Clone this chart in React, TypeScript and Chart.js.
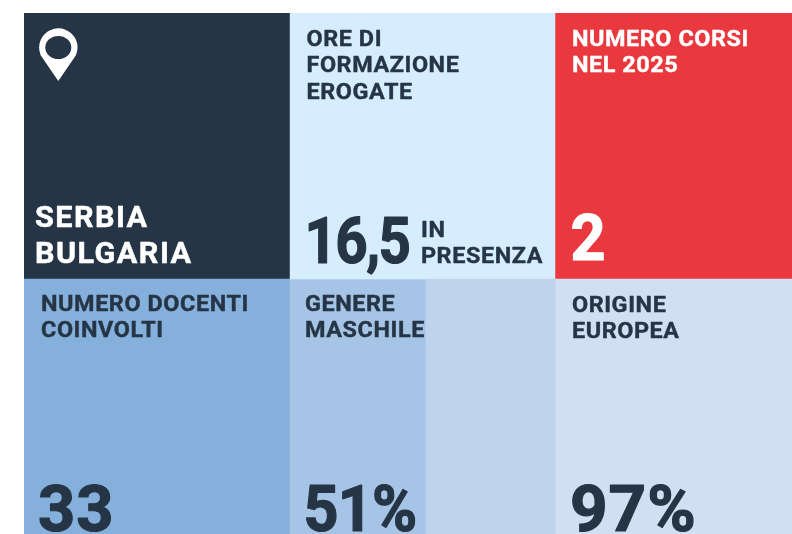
import React, { useEffect, useRef } from "react";
import { Chart, registerables } from "chart.js";

Chart.register(...registerables);

const rows = ["top", "bottom"];
const tileHeadings = [
  ["ORE DI", "FORMAZIONE", "EROGATE"],
  ["NUMERO CORSI", "NEL 2025"],
  ["NUMERO DOCENTI", "COINVOLTI"],
  ["GENERE", "MASCHILE"],
  ["ORIGINE", "EUROPEA"],
];
const tileValues = ["16,5", "2", "33", "51%", "97%"];
const places = ["SERBIA", "BULGARIA"];
const unitLabel = ["IN", "PRESENZA"];
const malePercent = 51.4;

const NAVY = "#263545";
const WHITE = "#ffffff";

// Position of every text block: tile column / row, plus offset in px inside the tile.
const headingSlots = [
  { col: 1, row: 0, dx: 17, dy: 33, color: NAVY },
  { col: 2, row: 0, dx: 17, dy: 33, color: WHITE },
  { col: 0, row: 1, dx: 17, dy: 32, color: NAVY },
  { col: 1, row: 1, dx: 15.5, dy: 32, color: NAVY },
  { col: 2, row: 1, dx: 17, dy: 33, color: NAVY },
];
const valueSlots = [
  { col: 1, row: 0, dx: 15, dy: 250, color: NAVY, spacing: -1.8, stretch: 0.87 },
  { col: 2, row: 0, dx: 15.5, dy: 247, color: WHITE, spacing: 0, stretch: 0.94 },
  { col: 0, row: 1, dx: 14, dy: 252, color: NAVY, spacing: 1, stretch: 1 },
  { col: 1, row: 1, dx: 14, dy: 252, color: NAVY, spacing: -0.8, stretch: 0.94 },
  { col: 2, row: 1, dx: 15, dy: 252, color: NAVY, spacing: 1, stretch: 1.01 },
];

function drawText(ctx: any, t: string, x: number, y: number, stretch: number, stroke: number) {
  ctx.save();
  ctx.translate(x, y);
  ctx.scale(stretch, 1);
  ctx.lineWidth = stroke;
  ctx.lineJoin = "round";
  ctx.strokeStyle = ctx.fillStyle;
  ctx.strokeText(t, 0, 0);
  ctx.fillText(t, 0, 0);
  ctx.restore();
}

const textPlugin = {
  id: "tileText",
  afterDatasetsDraw(chart: any) {
    const { ctx, scales } = chart;
    const x0 = (c: number) => scales.x.getPixelForValue(c);
    const y0 = (r: number) => scales.y.getPixelForValue(r) - scales.y.height / 4;
    ctx.save();
    ctx.textAlign = "left";
    ctx.textBaseline = "alphabetic";

    ctx.font = "700 22.5px Roboto";
    (ctx as any).letterSpacing = "0.55px";
    tileHeadings.forEach((lines, i) => {
      const s = headingSlots[i];
      ctx.fillStyle = s.color;
      lines.forEach((t, k) => drawText(ctx, t, x0(s.col) + s.dx, y0(s.row) + s.dy + k * 26.3, 1.04, 0.4));
    });

    ctx.font = "700 65px Roboto";
    tileValues.forEach((t, i) => {
      const s = valueSlots[i];
      (ctx as any).letterSpacing = s.spacing + "px";
      ctx.fillStyle = s.color;
      drawText(ctx, t, x0(s.col) + s.dx, y0(s.row) + s.dy, s.stretch, 1.2);
    });

    ctx.font = "700 22.5px Roboto";
    (ctx as any).letterSpacing = "0.55px";
    ctx.fillStyle = NAVY;
    unitLabel.forEach((t, k) => drawText(ctx, t, x0(1) + 131.5, y0(0) + 224 + k * 26, 1.04, 0.4));

    ctx.font = "700 30px Roboto";
    (ctx as any).letterSpacing = "1.4px";
    ctx.fillStyle = WHITE;
    places.forEach((t, k) => drawText(ctx, t, x0(0) + 11, y0(0) + 213.5 + k * 36.5, 1.02, 0.5));

    // Location pin
    const px = x0(0) + 34.3;
    const py = y0(0) + 34.5;
    ctx.beginPath();
    ctx.arc(px, py, 19.2, Math.PI * 0.87, Math.PI * 0.13);
    ctx.lineTo(px, py + 33.5);
    ctx.closePath();
    ctx.ellipse(px, py, 13, 11.6, 0, 0, Math.PI * 2, true);
    ctx.fill("evenodd");
    ctx.restore();
  },
};

export default function App() {
  const ref = useRef<HTMLCanvasElement | null>(null);
  useEffect(() => {
    document.body.style.margin = "0";
    const split = 1 + malePercent / 100;
    const chart = new Chart(ref.current!, {
      type: "bar",
      data: {
        labels: rows,
        datasets: [
          { label: "col1", data: [[0, 1], [0, 1]] as any, backgroundColor: [NAVY, "#85B0DC"] },
          { label: "col2", data: [[1, 2], [split, 2]] as any, backgroundColor: ["#D6EDFE", "#BFD3EC"] },
          { label: "male", data: [null, [1, split]] as any, backgroundColor: ["#A6C4E5", "#A6C4E5"] },
          { label: "col3", data: [[2, 3], [2, 3]] as any, backgroundColor: ["#E9393F", "#D1DFF2"] },
        ].map((d) => ({ ...d, grouped: false, barPercentage: 1, categoryPercentage: 1, borderWidth: 0 })),
      },
      options: {
        indexAxis: "y",
        responsive: false,
        animation: false,
        layout: { padding: { left: 24, top: 13, right: 0, bottom: 0 } },
        plugins: { legend: { display: false }, tooltip: { enabled: false } },
        scales: {
          x: { type: "linear", display: false, min: 0, max: 2.893 },
          y: { type: "category", display: false },
        },
      },
      plugins: [textPlugin],
    } as any);
    return () => chart.destroy();
  }, []);
  return (
    <div style={{ position: "fixed", inset: 0, overflow: "hidden", background: "#fff" }}>
      <canvas ref={ref} width={792} height={545} style={{ display: "block" }} />
    </div>
  );
}
